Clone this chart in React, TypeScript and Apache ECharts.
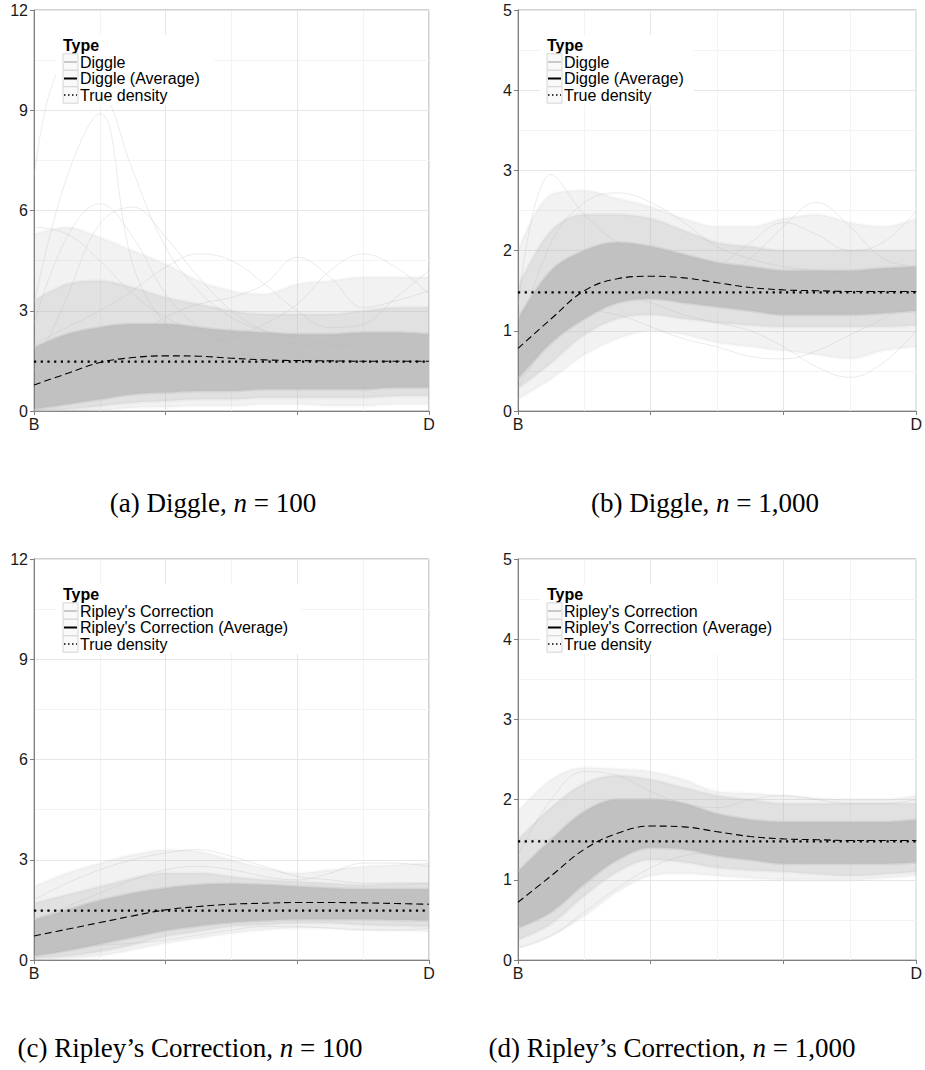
import React, { useEffect, useRef } from "react";
import * as echarts from "echarts";

// x positions along the B–D segment (0 = B, 6 = D), used as axis categories
const xGrid = [0, 0.5, 1, 1.5, 2, 2.5, 3, 3.5, 4, 4.5, 5, 5.5, 6];
const xTickLabels: Record<number, string> = { 0: "B", 6: "D" };

// ---------- (a) Diggle, n = 100 ----------
const aAvg = [0.78, 1.12, 1.45, 1.6, 1.65, 1.64, 1.58, 1.53, 1.51, 1.5, 1.49, 1.49, 1.49];
const aTrue = [1.48, 1.48, 1.48, 1.48, 1.48, 1.48, 1.48, 1.48, 1.48, 1.48, 1.48, 1.48, 1.48];
const aCoreLo = [0.05, 0.2, 0.35, 0.5, 0.55, 0.6, 0.6, 0.65, 0.65, 0.65, 0.65, 0.7, 0.7];
const aCoreHi = [1.9, 2.3, 2.5, 2.6, 2.6, 2.5, 2.4, 2.35, 2.3, 2.3, 2.35, 2.35, 2.3];
const aMidLo = [0, 0.05, 0.15, 0.25, 0.3, 0.35, 0.35, 0.4, 0.4, 0.4, 0.4, 0.45, 0.45];
const aMidHi = [3.3, 3.8, 3.9, 3.7, 3.4, 3.2, 3.0, 2.9, 2.9, 2.9, 3.0, 3.1, 3.1];
const aOuterLo = [0, 0, 0.02, 0.1, 0.12, 0.15, 0.15, 0.2, 0.2, 0.15, 0.15, 0.2, 0.2];
const aOuterHi = [5.3, 5.5, 5.2, 4.8, 4.4, 3.9, 3.6, 3.5, 3.8, 3.9, 4.0, 4.0, 4.0];
const aLines = [
  [7.0, 10.4, 9.8, 7.2, 4.9, 3.6, 2.8, 2.4, 2.2, 2.0, 1.9, 1.9, 1.9],
  [3.2, 7.0, 8.9, 4.4, 2.6, 2.0, 1.8, 1.6, 1.6, 1.5, 1.5, 1.5, 1.5],
  [2.6, 5.2, 6.2, 5.2, 3.5, 2.5, 2.0, 1.8, 1.7, 1.6, 1.6, 1.6, 1.6],
  [1.2, 3.4, 5.6, 6.1, 5.2, 4.0, 3.0, 2.4, 2.0, 1.9, 1.9, 1.9, 1.9],
  [5.5, 5.3, 4.5, 3.5, 2.8, 2.4, 2.2, 2.0, 2.0, 2.0, 2.0, 2.0, 2.0],
  [1.5, 1.6, 1.8, 2.2, 2.8, 3.2, 3.4, 3.8, 4.6, 4.0, 3.1, 3.3, 3.6],
  [1.0, 1.2, 1.4, 1.6, 1.8, 2.0, 2.2, 2.6, 3.2, 4.2, 4.7, 4.3, 3.5],
  [2.0, 2.5, 3.0, 3.6, 4.3, 4.7, 4.5, 3.8, 3.0, 2.5, 2.6, 3.4, 4.2],
];

// ---------- (b) Diggle, n = 1,000 ----------
const bAvg = [0.78, 1.15, 1.5, 1.65, 1.68, 1.66, 1.6, 1.54, 1.51, 1.5, 1.49, 1.49, 1.49];
const bTrue = [1.48, 1.48, 1.48, 1.48, 1.48, 1.48, 1.48, 1.48, 1.48, 1.48, 1.48, 1.48, 1.48];
const bCoreLo = [0.4, 0.85, 1.15, 1.35, 1.4, 1.35, 1.3, 1.25, 1.2, 1.2, 1.2, 1.22, 1.25];
const bCoreHi = [1.15, 1.75, 2.0, 2.1, 2.05, 1.95, 1.85, 1.8, 1.75, 1.75, 1.75, 1.78, 1.8];
const bMidLo = [0.28, 0.6, 0.95, 1.15, 1.2, 1.15, 1.1, 1.07, 1.05, 1.05, 1.05, 1.05, 1.07];
const bMidHi = [1.55, 2.25, 2.45, 2.45, 2.4, 2.25, 2.1, 2.05, 2.0, 2.0, 2.0, 2.0, 2.0];
const bOuterLo = [0.15, 0.4, 0.7, 0.9, 1.0, 0.95, 0.85, 0.8, 0.75, 0.7, 0.65, 0.75, 0.8];
const bOuterHi = [2.0, 2.7, 2.75, 2.65, 2.55, 2.4, 2.3, 2.3, 2.4, 2.45, 2.35, 2.3, 2.4];
const bLines = [
  [1.3, 2.95, 2.45, 2.1, 1.9, 1.8, 1.7, 1.65, 1.6, 1.6, 1.55, 1.55, 1.55],
  [0.9, 2.1, 2.6, 2.72, 2.6, 2.35, 2.05, 1.9, 1.8, 1.75, 1.7, 1.7, 1.7],
  [0.6, 1.2, 1.5, 1.55, 1.5, 1.45, 1.6, 1.9, 2.3, 2.6, 2.3, 1.9, 1.8],
  [0.5, 1.1, 1.45, 1.45, 1.35, 1.2, 1.1, 1.0, 0.8, 0.55, 0.42, 0.6, 1.0],
  [0.3, 0.9, 1.25, 1.2, 1.05, 0.9, 0.8, 0.68, 0.65, 0.75, 0.95, 1.15, 1.4],
  [0.8, 1.4, 1.7, 1.8, 1.75, 1.7, 1.8, 2.1, 2.35, 2.2, 2.0, 2.1, 2.5],
];

// ---------- (c) Ripley's Correction, n = 100 ----------
const cAvg = [0.72, 0.92, 1.12, 1.32, 1.5, 1.6, 1.67, 1.7, 1.72, 1.72, 1.71, 1.69, 1.67];
const cTrue = [1.48, 1.48, 1.48, 1.48, 1.48, 1.48, 1.48, 1.48, 1.48, 1.48, 1.48, 1.48, 1.48];
const cCoreLo = [0.12, 0.28, 0.48, 0.68, 0.88, 1.02, 1.12, 1.18, 1.22, 1.22, 1.22, 1.2, 1.18];
const cCoreHi = [1.2, 1.5, 1.78, 2.0, 2.15, 2.25, 2.28, 2.25, 2.2, 2.15, 2.12, 2.12, 2.12];
const cMidLo = [0.05, 0.12, 0.25, 0.45, 0.7, 0.85, 1.0, 1.05, 1.1, 1.1, 1.05, 1.02, 1.0];
const cMidHi = [1.7, 1.95, 2.2, 2.45, 2.6, 2.6, 2.5, 2.4, 2.35, 2.3, 2.25, 2.28, 2.3];
const cOuterLo = [0.0, 0.05, 0.12, 0.3, 0.5, 0.65, 0.8, 0.9, 0.95, 0.95, 0.9, 0.88, 0.85];
const cOuterHi = [2.2, 2.6, 2.9, 3.15, 3.3, 3.25, 3.0, 2.75, 2.6, 2.7, 2.8, 2.85, 2.9];
const cLines = [
  [1.8, 2.3, 2.7, 3.0, 3.2, 3.3, 3.1, 2.8, 2.5, 2.4, 2.3, 2.3, 2.3],
  [0.3, 0.4, 0.45, 0.5, 0.6, 0.75, 0.9, 1.0, 1.0, 0.95, 0.9, 0.9, 0.95],
  [1.2, 1.6, 2.0, 2.4, 2.7, 2.8, 2.7, 2.5, 2.4, 2.6, 2.9, 2.9, 2.8],
];

// ---------- (d) Ripley's Correction, n = 1,000 ----------
const dAvg = [0.72, 1.05, 1.38, 1.58, 1.67, 1.66, 1.6, 1.54, 1.51, 1.5, 1.49, 1.49, 1.49];
const dTrue = [1.48, 1.48, 1.48, 1.48, 1.48, 1.48, 1.48, 1.48, 1.48, 1.48, 1.48, 1.48, 1.48];
const dCoreLo = [0.4, 0.6, 0.95, 1.25, 1.4, 1.38, 1.3, 1.25, 1.2, 1.2, 1.2, 1.2, 1.22];
const dCoreHi = [1.1, 1.5, 1.85, 2.0, 2.0, 1.95, 1.82, 1.75, 1.72, 1.72, 1.72, 1.72, 1.75];
const dMidLo = [0.25, 0.45, 0.8, 1.1, 1.25, 1.22, 1.15, 1.12, 1.1, 1.07, 1.05, 1.07, 1.1];
const dMidHi = [1.5, 1.9, 2.2, 2.3, 2.25, 2.15, 2.05, 2.0, 1.95, 1.95, 1.95, 1.95, 1.95];
const dOuterLo = [0.15, 0.3, 0.55, 0.85, 1.05, 1.08, 1.05, 1.02, 1.0, 1.0, 1.0, 1.02, 1.05];
const dOuterHi = [1.85, 2.25, 2.4, 2.38, 2.35, 2.25, 2.1, 2.08, 2.05, 2.02, 2.0, 2.0, 2.05];
const dLines = [
  [0.15, 0.3, 0.6, 0.9, 1.15, 1.3, 1.35, 1.4, 1.4, 1.4, 1.4, 1.4, 1.4],
  [1.3, 2.0, 2.35, 2.3, 2.1, 1.95, 1.9, 2.0, 2.05, 2.0, 1.95, 1.95, 2.0],
];

const diggleLegend = ["Diggle", "Diggle (Average)", "True density"];
const ripleyLegend = ["Ripley's Correction", "Ripley's Correction (Average)", "True density"];

const panels = [
  {
    grid: { left: 34, top: 10, width: 395, height: 401 },
    yMax: 12, yStep: 3,
    avg: aAvg, truth: aTrue,
    core: [aCoreLo, aCoreHi], mid: [aMidLo, aMidHi], outer: [aOuterLo, aOuterHi],
    lines: aLines, legend: diggleLegend, legendW: 180,
    caption: { x: 213, y: 503, label: "(a) Diggle, ", n: "100" },
  },
  {
    grid: { left: 518, top: 10, width: 403, height: 401 },
    yMax: 5, yStep: 1,
    avg: bAvg, truth: bTrue,
    core: [bCoreLo, bCoreHi], mid: [bMidLo, bMidHi], outer: [bOuterLo, bOuterHi],
    lines: bLines, legend: diggleLegend, legendW: 176,
    caption: { x: 705, y: 503, label: "(b) Diggle, ", n: "1,000" },
  },
  {
    grid: { left: 34, top: 559, width: 395, height: 401 },
    yMax: 12, yStep: 3,
    avg: cAvg, truth: cTrue,
    core: [cCoreLo, cCoreHi], mid: [cMidLo, cMidHi], outer: [cOuterLo, cOuterHi],
    lines: cLines, legend: ripleyLegend, legendW: 268,
    caption: { x: 190, y: 1048, label: "(c) Ripley\u2019s Correction, ", n: "100" },
  },
  {
    grid: { left: 518, top: 559, width: 403, height: 401 },
    yMax: 5, yStep: 1,
    avg: dAvg, truth: dTrue,
    core: [dCoreLo, dCoreHi], mid: [dMidLo, dMidHi], outer: [dOuterLo, dOuterHi],
    lines: dLines, legend: ripleyLegend, legendW: 264,
    caption: { x: 672, y: 1048, label: "(d) Ripley\u2019s Correction, ", n: "1,000" },
  },
];

const SANS = "Liberation Sans, Arial, Helvetica, sans-serif";
const SERIF = "Liberation Serif, Times New Roman, serif";
const AXIS_GRAY = "#7f7f7f";
const MAJOR = "#e6e6e6";
const MINOR = "#f3f3f3";

function band(i: number, lo: number[], hi: number[], color: string, key: string, edge: string) {
  const base = {
    type: "line",
    xAxisIndex: 2 * i,
    yAxisIndex: i,
    stack: `${key}${i}`,
    showSymbol: false,
    symbol: "none",
    smooth: 0.35,
    silent: true,
  };
  return [
    { ...base, name: `${key}lo${i}`, data: lo.slice(), lineStyle: { width: 3, color: edge } },
    {
      ...base,
      name: `${key}hi${i}`,
      data: hi.map((h, k) => +(h - lo[k]).toFixed(4)),
      lineStyle: { width: 3, color: edge },
      areaStyle: { color, opacity: 1 },
    },
  ];
}

function buildOption() {
  const grids: any[] = [];
  const xAxes: any[] = [];
  const yAxes: any[] = [];
  const series: any[] = [];
  const graphics: any[] = [];
  const cats = xGrid.map(String);

  panels.forEach((p, i) => {
    grids.push({ ...p.grid, show: true, borderColor: "#a3a3a3", borderWidth: 1, containLabel: false });
    // main x axis (major grid, ticks, labels)
    xAxes.push({
      type: "category",
      gridIndex: i,
      data: cats,
      boundaryGap: false,
      position: "bottom",
      axisLine: { show: true, onZero: false, lineStyle: { color: AXIS_GRAY, width: 1 } },
      axisTick: { show: true, length: 4, interval: 3, lineStyle: { color: AXIS_GRAY } },
      axisLabel: {
        show: true,
        interval: 3,
        margin: 5,
        fontSize: 16,
        fontFamily: SANS,
        color: "#1a1a1a",
        formatter: (v: string) => xTickLabels[Number(v)] ?? "",
      },
      splitLine: { show: true, interval: 3, lineStyle: { color: MAJOR, width: 1 } },
      z: 3,
    });
    // companion axis carrying the minor vertical grid lines
    xAxes.push({
      type: "category",
      gridIndex: i,
      data: cats,
      boundaryGap: false,
      position: "top",
      axisLine: { show: false },
      axisTick: { show: false },
      axisLabel: { show: false },
      splitLine: {
        show: true,
        interval: (idx: number) => idx % 4 === 2,
        lineStyle: { color: MINOR, width: 1 },
      },
    });
    yAxes.push({
      type: "value",
      gridIndex: i,
      min: 0,
      max: p.yMax,
      interval: p.yStep,
      axisLine: { show: true, onZero: false, lineStyle: { color: AXIS_GRAY, width: 1 } },
      axisTick: { show: true, length: 4, lineStyle: { color: AXIS_GRAY } },
      minorTick: { show: false, splitNumber: 2 },
      axisLabel: {
        show: true,
        showMinLabel: true,
        showMaxLabel: true,
        margin: 6,
        fontSize: 16,
        fontFamily: SANS,
        color: "#1a1a1a",
      },
      splitLine: { show: true, lineStyle: { color: MAJOR, width: 1 } },
      minorSplitLine: { show: true, lineStyle: { color: MINOR, width: 1 } },
      z: 3,
    });

    series.push(...band(i, p.outer[0], p.outer[1], "rgba(190,190,190,0.2)", "outer", "rgba(190,190,190,0.08)"));
    series.push(...band(i, p.mid[0], p.mid[1], "rgba(190,190,190,0.32)", "mid", "rgba(190,190,190,0.12)"));
    series.push(...band(i, p.core[0], p.core[1], "rgba(190,190,190,0.9)", "core", "rgba(190,190,190,0.35)"));

    p.lines.forEach((ln, k) => {
      series.push({
        type: "line",
        name: `sim${i}_${k}`,
        xAxisIndex: 2 * i,
        yAxisIndex: i,
        data: ln.slice(),
        showSymbol: false,
        symbol: "none",
        smooth: 0.4,
        silent: true,
        lineStyle: { color: "rgba(190,190,190,0.3)", width: 1 },
      });
    });

    series.push({
      type: "line",
      name: p.legend[1],
      xAxisIndex: 2 * i,
      yAxisIndex: i,
      data: p.avg.slice(),
      showSymbol: false,
      symbol: "none",
      smooth: 0.4,
      silent: true,
      lineStyle: { color: "#000", width: 1.1, type: [7, 4] },
      z: 5,
    });
    series.push({
      type: "line",
      name: p.legend[2],
      xAxisIndex: 2 * i,
      yAxisIndex: i,
      data: p.truth.slice(),
      showSymbol: false,
      symbol: "none",
      silent: true,
      lineStyle: { color: "#000", width: 2.2, type: [2.2, 4.5] },
      z: 6,
    });

    // legend drawn as graphic
    const L = p.grid.left;
    const T = p.grid.top;
    graphics.push({
      type: "rect",
      z: 100,
      shape: { x: L + 22, y: T + 25, width: p.legendW - 22, height: 70 },
      style: { fill: "#ffffff" },
      silent: true,
    });
    graphics.push({
      type: "text",
      z: 101,
      x: L + 29,
      y: T + 35,
      style: { text: "Type", font: `bold 16px ${SANS}`, fill: "#000", align: "left", verticalAlign: "middle" },
    });
    const centers = [T + 52, T + 68.5, T + 85];
    centers.forEach((cy, k) => {
      graphics.push({
        type: "rect",
        z: 101,
        shape: { x: L + 29, y: cy - 8.2, width: 15, height: 16.4 },
        style: { fill: "#f9f9f9", stroke: "#d6d6d6", lineWidth: 1 },
      });
      const lineStyle =
        k === 0
          ? { stroke: "#bdbdbd", lineWidth: 1.6 }
          : k === 1
          ? { stroke: "#000", lineWidth: 2 }
          : { stroke: "#000", lineWidth: 1.4, lineDash: [1.5, 2.5] };
      graphics.push({
        type: "line",
        z: 102,
        shape: { x1: L + 30, y1: cy, x2: L + 43, y2: cy },
        style: lineStyle,
      });
      graphics.push({
        type: "text",
        z: 102,
        x: L + 46,
        y: cy,
        style: { text: p.legend[k], font: `16px ${SANS}`, fill: "#000", align: "left", verticalAlign: "middle" },
      });
    });

    graphics.push({
      type: "text",
      z: 101,
      x: p.caption.x,
      y: p.caption.y,
      style: {
        text: `{r|${p.caption.label}}{i|n}{r| = ${p.caption.n}}`,
        align: "center",
        verticalAlign: "middle",
        rich: {
          r: { fontFamily: SERIF, fontSize: 27, fill: "#000", color: "#000" },
          i: { fontFamily: SERIF, fontSize: 27, fontStyle: "italic", fill: "#000", color: "#000" },
        },
      },
    });
  });

  return {
    animation: false,
    backgroundColor: "#ffffff",
    grid: grids,
    xAxis: xAxes,
    yAxis: yAxes,
    series,
    graphic: { elements: graphics },
  };
}

export default function App() {
  const ref = useRef<HTMLDivElement>(null);
  useEffect(() => {
    document.body.style.margin = "0";
    if (!ref.current) return;
    const chart = echarts.init(ref.current, undefined, { renderer: "svg" });
    chart.setOption(buildOption() as any);
    return () => {
      chart.dispose();
    };
  }, []);
  return <div ref={ref} style={{ width: 925, height: 1070 }} />;
}
